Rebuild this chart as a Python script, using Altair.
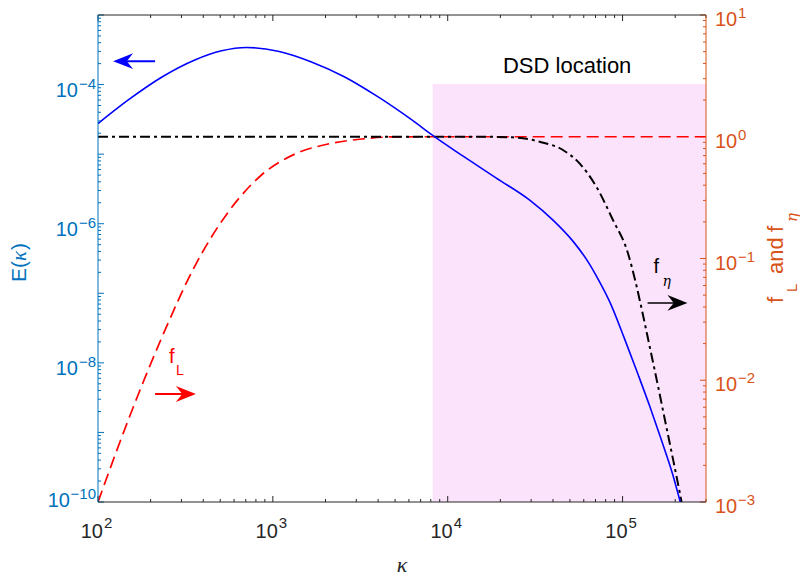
import altair as alt
import pandas as pd

# ---------------- values ----------------
# energy spectrum E(kappa)  (left axis)
e_kappa = [100, 149, 231, 358, 509, 708, 1072, 1663, 2576, 4000, 6209, 8241,
           12250, 18970, 29440, 40000, 52000, 63100, 72440, 85110, 102300,
           123000, 142900, 166000, 192800, 213800]
e_val = [2.754e-5, 6.01e-5, 1.274e-4, 2.254e-4, 3.055e-4, 3.412e-4, 3.02e-4,
         2.118e-4, 1.288e-4, 6.65e-5, 3.13e-5, 1.845e-5, 9.35e-6, 4.52e-6,
         2.183e-6, 1.127e-6, 5.62e-7, 2.9e-7, 1.6e-7, 7.23e-8, 2.27e-8,
         6.68e-9, 2.39e-9, 8.04e-10, 2.57e-10, 1.0e-10]

# f_L (right axis)
fl_kappa = [100, 149, 231, 358, 556, 861, 1337, 2070, 3214, 4977, 8000, 300000]
fl_val = [0.001, 0.00472, 0.02223, 0.0867, 0.241, 0.485, 0.721, 0.872, 0.958,
          0.998, 1.0, 1.0]

# f_eta (right axis)
fe_kappa = [100, 15000, 23500, 33570, 45600, 56750, 70790, 88100, 106800,
            118700, 130100, 141900, 156400, 174700, 191600, 210900, 217400]
fe_val = [1.0, 1.0, 0.989, 0.910, 0.778, 0.605, 0.389, 0.207, 0.1131, 0.0641,
          0.03567, 0.01985, 0.01024, 0.00472, 0.00248, 0.001255, 0.001]

# shaded "DSD location" band
dsd_kappa = [8200, 300000]
dsd_f = [0.001, 2.71]

# annotations (data coordinates)
blue_arrow = {"tail": 212, "end": 135, "tip": 122, "y": 2.17e-4}
red_arrow = {"tail": 212, "end": 327, "tip": 363, "y": 7.71e-3}
black_arrow = {"tail": 139000, "end": 212000, "tip": 235000, "y": 0.0432}
dsd_label = {"k": 48200, "f": 3.34, "text": "DSD location"}
fl_label = {"k": 255, "f": 0.01387, "k_sub": 279, "f_sub": 0.01104}
fe_label = {"k": 150300, "f": 0.076, "k_sub": 169300, "f_sub": 0.0594}

# axis ticks and tick labels
x_major = [1e2, 1e3, 1e4, 1e5]
x_exps = [2, 3, 4, 5]
e_major = [10.0 ** e for e in range(-10, -2)]
e_lab_a = [1e-8, 1e-6, 1e-4]
e_exps_a = [-8, -6, -4]
e_lab_b = [1e-10]
e_exps_b = [-10]
f_major = [1e-3, 1e-2, 1e-1, 1e0, 1e1]
f_exps = [-3, -2, -1, 0, 1]
x_minor = [d * 10.0 ** e for e in range(2, 6) for d in range(2, 10) if d * 10.0 ** e <= 3e5]
e_minor = [d * 10.0 ** e for e in range(-10, -3) for d in range(2, 10)]
f_minor = [d * 10.0 ** e for e in range(-3, 1) for d in range(2, 10)]

# ---------------- styling ----------------
FONT = "Liberation Sans"
SERIF = "Liberation Serif"
BLUE_AX = "#0072BD"
ORANGE_AX = "#D95319"
DARK = "#262626"
W, H = 608, 487


def exp_str(e):
    return str(e).replace("-", "\u2212")


xs = alt.Scale(type="log", domain=[100, 3e5], nice=False)
ys_e = alt.Scale(type="log", domain=[1e-10, 1e-3], nice=False)
ys_f = alt.Scale(type="log", domain=[1e-3, 10], nice=False)

ARROW_L = "M0,0L2,-0.79L1.37,0L2,0.79Z"
ARROW_R = "M0,0L-2,-0.79L-1.37,0L-2,0.79Z"

one = pd.DataFrame({"d": [0]})


def arrow(a, color, path, size, width, yscale):
    df = pd.DataFrame({"t": [a["tail"]], "e": [a["end"]], "p": [a["tip"]], "y": [a["y"]]})
    shaft = alt.Chart(df).mark_rule(color=color, strokeWidth=width).encode(
        x=alt.X("t:Q", scale=xs, axis=None), x2="e:Q", y=alt.Y("y:Q", scale=yscale, axis=None))
    head = alt.Chart(df).mark_point(shape=path, filled=True, size=size, opacity=1,
                                    color=color, strokeWidth=0).encode(
        x=alt.X("p:Q", scale=xs, axis=None), y=alt.Y("y:Q", scale=yscale, axis=None))
    return [shaft, head]


def data_text(k, f, txt, size, color, yscale, font=FONT, style="normal", align="left"):
    df = pd.DataFrame({"k": [k], "f": [f]})
    return alt.Chart(df).mark_text(text=txt, fontSize=size, color=color, font=font,
                                   fontStyle=style, align=align, baseline="alphabetic").encode(
        x=alt.X("k:Q", scale=xs, axis=None), y=alt.Y("f:Q", scale=yscale, axis=None))


def px_text(txt, x, y, size, color, angle=270, font=FONT, style="normal", align="left",
            baseline="alphabetic"):
    return alt.Chart(one).mark_text(text=txt, angle=angle, align=align, baseline=baseline,
                                    fontSize=size, color=color, font=font, fontStyle=style).encode(
        x=alt.value(x), y=alt.value(y))


def y_labels(vals, exps, yscale, color, x10, align10, xexp, alignexp, dy10, dyexp):
    df = pd.DataFrame({"v": vals, "b": ["10"] * len(vals), "e": [exp_str(e) for e in exps]})
    base = alt.Chart(df).mark_text(align=align10, baseline="alphabetic", fontSize=20,
                                   color=color, font=FONT, dy=dy10).encode(
        y=alt.Y("v:Q", scale=yscale, axis=None), x=alt.value(x10), text="b:N")
    sup = alt.Chart(df).mark_text(align=alignexp, baseline="alphabetic", fontSize=15,
                                  color=color, font=FONT, dy=dyexp).encode(
        y=alt.Y("v:Q", scale=yscale, axis=None), x=alt.value(xexp), text="e:N")
    return [base, sup]


# ---------------- right-axis group ----------------
band = alt.Chart(pd.DataFrame({"k0": [dsd_kappa[0]], "k1": [dsd_kappa[1]],
                               "f0": [dsd_f[0]], "f1": [dsd_f[1]]})).mark_rect(
    color="#FCE3FC", opacity=1).encode(
    x=alt.X("k0:Q", scale=xs, axis=None), x2="k1:Q",
    y=alt.Y("f0:Q", scale=ys_f, axis=None), y2="f1:Q")

fl_line = alt.Chart(pd.DataFrame({"k": fl_kappa, "f": fl_val})).mark_line(
    color="#FF0000", strokeWidth=1.7, strokeDash=[12, 6], interpolate="monotone", clip=True).encode(
    x=alt.X("k:Q", scale=xs, axis=None), y=alt.Y("f:Q", scale=ys_f, axis=None))

fe_line = alt.Chart(pd.DataFrame({"k": fe_kappa, "f": fe_val})).mark_line(
    color="#000000", strokeWidth=2, strokeDash=[10, 4, 3, 4], interpolate="monotone", clip=True).encode(
    x=alt.X("k:Q", scale=xs, axis=None), y=alt.Y("f:Q", scale=ys_f, axis=None))

dsd_text = data_text(dsd_label["k"], dsd_label["f"], dsd_label["text"], 22, "#000000", ys_f,
                     align="center")
fl_t1 = data_text(fl_label["k"], fl_label["f"], "f", 20, "#FF0000", ys_f)
fl_t2 = data_text(fl_label["k_sub"], fl_label["f_sub"], "L", 14, "#FF0000", ys_f)
fe_t1 = data_text(fe_label["k"], fe_label["f"], "f", 20, "#000000", ys_f)
fe_t2 = data_text(fe_label["k_sub"], fe_label["f_sub"], "\u03b7", 14, "#000000", ys_f,
                  font="DejaVu Serif", style="italic")

f_ticks_major = alt.Chart(pd.DataFrame({"v": f_major})).mark_rule(color=ORANGE_AX, strokeWidth=1).encode(
    y=alt.Y("v:Q", scale=ys_f, axis=None), x=alt.value(W), x2=alt.value(W - 6))
f_ticks_minor = alt.Chart(pd.DataFrame({"v": f_minor})).mark_rule(color=ORANGE_AX, strokeWidth=1).encode(
    y=alt.Y("v:Q", scale=ys_f, axis=None), x=alt.value(W), x2=alt.value(W - 3))

right_group = alt.layer(
    band, f_ticks_major, f_ticks_minor, fl_line, fe_line,
    *arrow(red_arrow, "#FF0000", ARROW_R, 400, 2, ys_f),
    *arrow(black_arrow, "#000000", ARROW_R, 400, 1.5, ys_f),
    dsd_text, fl_t1, fl_t2, fe_t1, fe_t2,
    *y_labels(f_major, f_exps, ys_f, ORANGE_AX, W + 9, "left", W + 32, "left", 11, 3))

# ---------------- left-axis group ----------------
e_line = alt.Chart(pd.DataFrame({"k": e_kappa, "e": e_val})).mark_line(
    color="#0000FF", strokeWidth=1.6, interpolate="monotone", clip=True).encode(
    x=alt.X("k:Q", scale=xs, axis=None), y=alt.Y("e:Q", scale=ys_e, axis=None))

e_ticks_major = alt.Chart(pd.DataFrame({"v": e_major})).mark_rule(color=BLUE_AX, strokeWidth=1).encode(
    y=alt.Y("v:Q", scale=ys_e, axis=None), x=alt.value(0), x2=alt.value(6))
e_ticks_minor = alt.Chart(pd.DataFrame({"v": e_minor})).mark_rule(color=BLUE_AX, strokeWidth=1).encode(
    y=alt.Y("v:Q", scale=ys_e, axis=None), x=alt.value(0), x2=alt.value(3))


def x_ticks(vals, length):
    df = pd.DataFrame({"v": vals})
    bottom = alt.Chart(df).mark_rule(color=DARK, strokeWidth=1).encode(
        x=alt.X("v:Q", scale=xs, axis=None), y=alt.value(H), y2=alt.value(H - length))
    top = alt.Chart(df).mark_rule(color=DARK, strokeWidth=1).encode(
        x=alt.X("v:Q", scale=xs, axis=None), y=alt.value(0), y2=alt.value(length))
    return [bottom, top]


x_lab_df = pd.DataFrame({"v": x_major, "b": ["10"] * len(x_major),
                         "e": [exp_str(e) for e in x_exps]})
x_lab_base = alt.Chart(x_lab_df).mark_text(align="right", baseline="alphabetic", fontSize=20,
                                           color=DARK, font=FONT, dx=5).encode(
    x=alt.X("v:Q", scale=xs, axis=None), y=alt.value(H + 36), text="b:N")
x_lab_sup = alt.Chart(x_lab_df).mark_text(align="left", baseline="alphabetic", fontSize=15,
                                          color=DARK, font=FONT, dx=6).encode(
    x=alt.X("v:Q", scale=xs, axis=None), y=alt.value(H + 26), text="e:N")

# frame lines
frame = [
    alt.Chart(one).mark_rule(color=DARK, strokeWidth=1).encode(
        x=alt.value(0), x2=alt.value(W), y=alt.value(0)),
    alt.Chart(one).mark_rule(color=DARK, strokeWidth=1).encode(
        x=alt.value(0), x2=alt.value(W), y=alt.value(H)),
    alt.Chart(one).mark_rule(color=BLUE_AX, strokeWidth=1).encode(
        x=alt.value(0), y=alt.value(0), y2=alt.value(H)),
    alt.Chart(one).mark_rule(color=ORANGE_AX, strokeWidth=1).encode(
        x=alt.value(W), y=alt.value(0), y2=alt.value(H)),
]

titles = [
    # x title
    px_text("\u03ba", 304, 550, 22, DARK, angle=0, font=SERIF, style="italic",
            align="center", baseline="middle"),
    # left title E(kappa)
    px_text("E(", -72, 267, 21, BLUE_AX),
    px_text("\u03ba", -72, 246, 21, BLUE_AX, font=SERIF, style="italic"),
    px_text(")", -72, 235, 21, BLUE_AX),
    # right title f_L and f_eta
    px_text("f", 685, 288, 22, ORANGE_AX),
    px_text("L", 699, 277, 15, ORANGE_AX),
    px_text("and", 685, 259, 22, ORANGE_AX),
    px_text("f", 685, 217, 22, ORANGE_AX),
    px_text("\u03b7", 699, 207, 15, ORANGE_AX, font="DejaVu Serif", style="italic"),
]

left_group = alt.layer(
    e_line, e_ticks_major, e_ticks_minor,
    *x_ticks(x_major, 6), *x_ticks(x_minor, 3), *frame,
    *arrow(blue_arrow, "#0000FF", ARROW_L, 400, 2, ys_e),
    *y_labels(e_lab_a, e_exps_a, ys_e, BLUE_AX, -20, "right", -2, "right", 12, 4),
    *y_labels(e_lab_b, e_exps_b, ys_e, BLUE_AX, -28, "right", -2, "right", 5, -3),
    x_lab_base, x_lab_sup, *titles)

chart = alt.layer(right_group, left_group).resolve_scale(y="independent").properties(
    width=W, height=H,
    autosize=alt.AutoSizeParams(type="none"),
    padding={"left": 98, "top": 15, "right": 94, "bottom": 77},
).configure(font=FONT).configure_view(stroke=None)

chart.save("out.html", embed_options={"renderer": "svg", "actions": False})
